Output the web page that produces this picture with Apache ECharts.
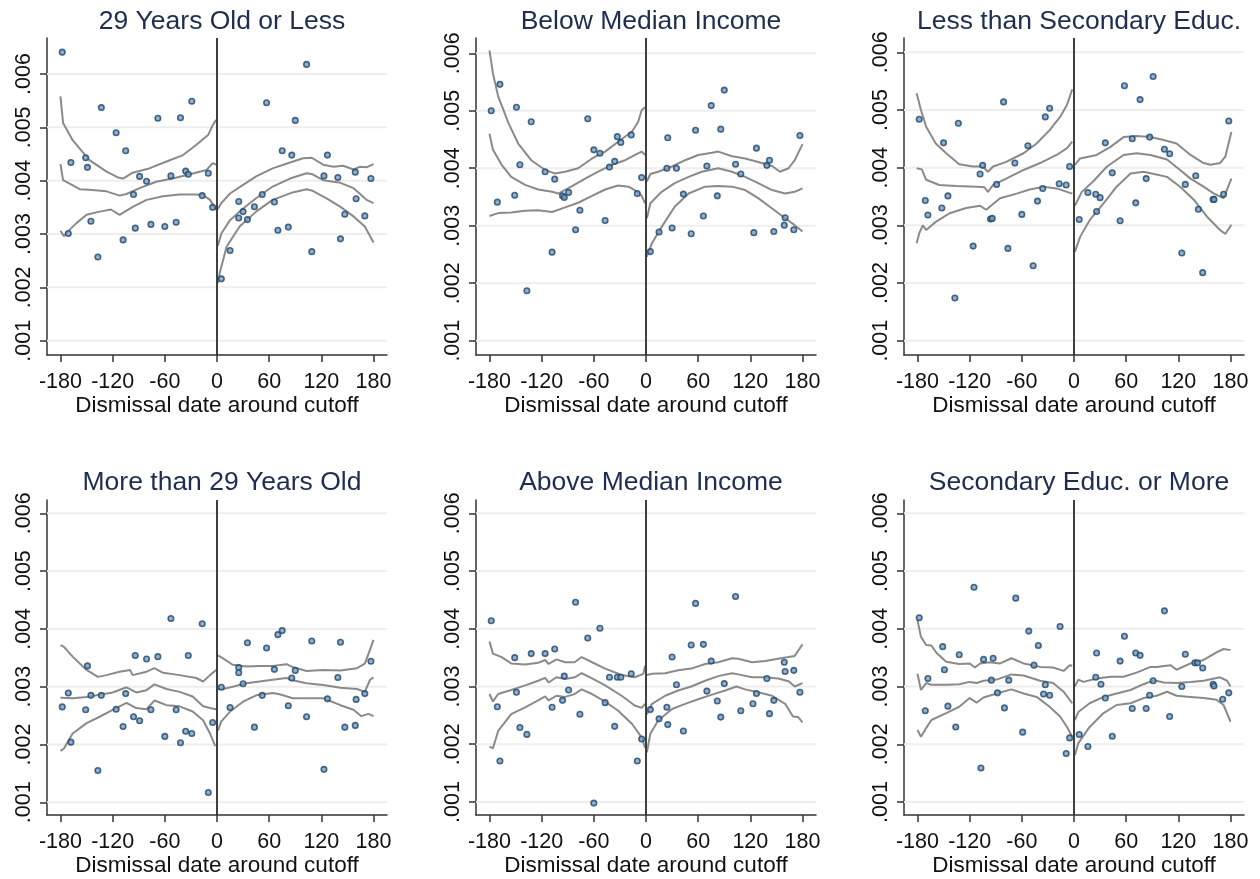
<!DOCTYPE html>
<html>
<head>
<meta charset="utf-8">
<script src="https://cdn.jsdelivr.net/npm/echarts@6/dist/echarts.min.js"></script>
<style>
html,body{margin:0;padding:0;background:#fff;}
#c{width:1260px;height:879px;}
</style>
</head>
<body>
<div id="c"></div>
<script>
// ---------------- DATA ----------------
const panelTitles = ["29 Years Old or Less","Below Median Income","Less than Secondary Educ.",
                     "More than 29 Years Old","Above Median Income","Secondary Educ. or More"];
const xTickValues = [-180,-120,-60,0,60,120,180];
const yTickValues = [0.001,0.002,0.003,0.004,0.005,0.006];
const xAxisTitle = "Dismissal date around cutoff";
const xRange = [-195.5,195.5];
const yRanges = [[0.000732,0.006675],[0.000751,0.006266],[0.000752,0.006248],
                 [0.00078,0.00623],[0.000774,0.006231],[0.000775,0.00623]];

// Panel 1: 29 Years Old or Less
const p1Points = [[-178,.00641],[-171,.00301],[-168,.00434],[-151,.00443],[-149,.00425],[-145,.00324],[-137,.00257],[-133,.00537],[-116,.0049],[-108,.00289],[-105,.00456],[-96,.00374],[-94,.00311],[-89,.00408],[-81,.00399],[-76,.00318],[-68,.00517],[-60,.00314],[-53,.00409],[-47,.00322],[-42,.00518],[-36,.00418],[-33,.00412],[-29,.00549],[-17,.00372],[-10,.00414],[-5,.0035],
  [5,.00216],[15,.00269],[25,.00361],[25,.0033],[30,.00342],[35,.00327],[43,.00351],[52,.00374],[57,.00546],[66,.0036],[70,.00307],[75,.00456],[82,.00313],[86,.00448],[90,.00513],[103,.00618],[109,.00267],[123,.00409],[127,.00448],[139,.00406],[142,.00291],[147,.00337],[159,.00416],[160,.00366],[170,.00334],[177,.00404]];
const p1UpL = [[-180,.00558],[-177,.00508],[-166,.00476],[-147,.00439],[-127,.00417],[-114,.00406],[-108,.00404],[-97,.00415],[-78,.00423],[-58,.00436],[-39,.00448],[-24,.00467],[-10,.00486],[-5,.00504],[-1,.00514]];
const p1MdL = [[-180,.00431],[-177,.00401],[-170,.00395],[-158,.00384],[-147,.00383],[-127,.0038],[-112,.00372],[-104,.00375],[-89,.00386],[-70,.00398],[-51,.00404],[-31,.00412],[-12,.0042],[-5,.00433],[-1,.0043]];
const p1LoL = [[-180,.00306],[-176,.00296],[-172,.00304],[-162,.0032],[-150,.00336],[-135,.00342],[-122,.00346],[-112,.00336],[-97,.00351],[-81,.00364],[-62,.00371],[-43,.00374],[-24,.00374],[-16,.00373],[-8,.00364],[-1,.00345]];
const p1UpR = [[1,.00347],[5,.00358],[15,.00376],[30,.00392],[45,.00408],[64,.00423],[84,.00434],[99,.00442],[109,.00443],[122,.0043],[134,.00426],[145,.00428],[157,.00421],[164,.00426],[172,.00425],[180,.00431]];
const p1MdR = [[1,.00278],[5,.00301],[15,.00326],[30,.00348],[45,.00367],[64,.00389],[84,.00404],[103,.00414],[110,.00412],[122,.00401],[142,.00396],[157,.00386],[164,.00376],[172,.00364],[180,.00358]];
const p1LoR = [[1,.00208],[3,.00226],[11,.00276],[26,.00314],[45,.00342],[64,.00364],[87,.00378],[103,.00384],[110,.00381],[126,.00367],[142,.00351],[157,.00333],[170,.00314],[180,.00284]];

// Panel 2: Below Median Income
const p2Points = [[-178,.005],[-171,.00341],[-168,.00546],[-151,.00353],[-149,.00506],[-145,.00406],[-137,.00187],[-132,.00481],[-116,.00394],[-108,.00254],[-105,.00381],[-96,.00352],[-94,.00349],[-89,.00358],[-81,.00293],[-76,.00327],[-67,.00486],[-60,.00432],[-53,.00426],[-47,.00309],[-42,.00402],[-36,.00412],[-33,.00455],[-29,.00445],[-17,.00458],[-10,.00356],[-5,.00384],
  [5,.00255],[15,.00289],[25,.00453],[24,.004],[30,.00296],[35,.004],[43,.00355],[52,.00286],[57,.00466],[66,.00317],[70,.00404],[75,.00509],[82,.00352],[86,.00468],[90,.00536],[103,.00407],[109,.0039],[124,.00288],[127,.00435],[139,.00405],[142,.00414],[147,.0029],[159,.00301],[160,.00314],[170,.00293],[177,.00457]];
const p2UpL = [[-180,.00605],[-176,.00565],[-170,.00525],[-158,.00478],[-147,.00443],[-132,.00414],[-116,.00397],[-105,.00391],[-93,.00394],[-78,.004],[-62,.00417],[-47,.00429],[-32,.00446],[-16,.00464],[-9,.00481],[-5,.00501],[-1,.00506]];
const p2MdL = [[-180,.0046],[-176,.00432],[-166,.00406],[-155,.00385],[-139,.00371],[-124,.00363],[-108,.00359],[-101,.00356],[-86,.00368],[-70,.00382],[-55,.00394],[-39,.00406],[-24,.00414],[-13,.00423],[-5,.00429],[-1,.00423]];
const p2LoL = [[-180,.00317],[-170,.00322],[-155,.00323],[-139,.00326],[-124,.00327],[-108,.00324],[-93,.00332],[-78,.0034],[-62,.00352],[-47,.00363],[-32,.0037],[-20,.00368],[-13,.00362],[-5,.00352],[-1,.00339]];
const p2UpR = [[1,.00377],[5,.0039],[14,.00394],[30,.00403],[45,.00414],[60,.00423],[76,.00427],[83,.00429],[99,.00421],[114,.00417],[129,.00411],[145,.00404],[154,.00394],[164,.004],[171,.00414],[180,.00442]];
const p2MdR = [[1,.00313],[5,.00339],[18,.00359],[33,.00374],[49,.00385],[64,.00394],[83,.004],[99,.00394],[114,.00385],[129,.00374],[145,.00362],[160,.00356],[171,.00359],[180,.00365]];
const p2LoR = [[1,.00246],[7,.0027],[18,.00298],[33,.00333],[49,.00356],[68,.00368],[83,.00369],[99,.00368],[114,.00362],[129,.00348],[145,.0033],[160,.00313],[171,.00301],[180,.0029]];

// Panel 3: Less than Secondary Educ.
const p3Points = [[-178,.00484],[-171,.00343],[-168,.00318],[-152,.0033],[-150,.00443],[-145,.00351],[-137,.00174],[-133,.00477],[-116,.00264],[-108,.00389],[-105,.00404],[-96,.00311],[-94,.00312],[-89,.00371],[-81,.00514],[-76,.0026],[-68,.00408],[-60,.00319],[-53,.00438],[-47,.0023],[-42,.00342],[-36,.00364],[-33,.00488],[-28,.00503],[-17,.00372],[-9,.0037],[-5,.00402],
  [6,.0031],[16,.00357],[25,.00354],[26,.00324],[30,.00348],[36,.00443],[44,.00391],[53,.00308],[58,.00542],[67,.0045],[71,.00339],[76,.00518],[83,.00381],[87,.00453],[91,.00558],[104,.00432],[110,.00424],[124,.00252],[128,.00371],[140,.00386],[143,.00328],[148,.00218],[160,.00345],[161,.00345],[172,.00354],[178,.00481]];
const p3UpL = [[-181,.00529],[-176,.005],[-170,.00471],[-159,.00442],[-147,.00425],[-132,.00406],[-116,.00402],[-105,.00402],[-99,.00393],[-93,.00402],[-78,.0041],[-58,.00425],[-43,.00442],[-28,.00465],[-16,.00488],[-8,.00509],[-2,.00536]];
const p3MdL = [[-181,.00399],[-175,.00397],[-170,.00379],[-155,.0037],[-135,.00368],[-112,.00367],[-103,.00366],[-99,.00358],[-93,.0037],[-78,.00381],[-58,.00396],[-39,.00408],[-20,.00422],[-8,.00434],[-2,.00445]];
const p3LoL = [[-181,.00269],[-178,.00286],[-174,.003],[-170,.00292],[-159,.00306],[-143,.00321],[-124,.0033],[-108,.00334],[-101,.00327],[-85,.00347],[-66,.00355],[-51,.00362],[-35,.00367],[-20,.00364],[-8,.00358],[-2,.00355]];
const p3UpR = [[1,.00405],[7,.00416],[26,.00422],[42,.00436],[57,.00453],[72,.00455],[88,.00453],[103,.00448],[118,.00442],[134,.00422],[149,.00408],[157,.00405],[168,.00408],[174,.00419],[181,.00462]];
const p3MdR = [[1,.00334],[9,.00358],[22,.00376],[38,.00402],[57,.00422],[72,.00425],[88,.00422],[107,.00414],[122,.00396],[134,.00381],[149,.00367],[161,.00355],[172,.00347],[181,.00381]];
const p3LoR = [[1,.00254],[7,.0028],[18,.00309],[34,.00338],[49,.00367],[65,.0039],[80,.00393],[92,.00389],[107,.00384],[122,.00367],[138,.00344],[153,.00315],[168,.00292],[174,.00285],[181,.00301]];

// Panel 4: More than 29 Years Old
const p4Points = [[-178,.00265],[-171,.00289],[-168,.00204],[-151,.0026],[-149,.00336],[-145,.00285],[-137,.00155],[-133,.00285],[-116,.00261],[-108,.00231],[-105,.00288],[-96,.00248],[-94,.00354],[-89,.00241],[-81,.00348],[-76,.0026],[-68,.00352],[-60,.00214],[-53,.00418],[-47,.0026],[-42,.00203],[-36,.00223],[-33,.00354],[-29,.00219],[-17,.00409],[-10,.00117],[-5,.00238],
  [5,.00299],[15,.00264],[25,.00333],[25,.00324],[30,.00305],[35,.00376],[43,.0023],[52,.00285],[57,.00367],[66,.0033],[70,.0039],[75,.00397],[82,.00267],[86,.00315],[90,.00328],[103,.00248],[109,.00379],[123,.00157],[127,.00279],[139,.00316],[142,.00377],[147,.0023],[159,.00233],[160,.00278],[170,.00288],[177,.00344]];
const p4UpL = [[-180,.00372],[-176,.00369],[-166,.00352],[-150,.00329],[-137,.00317],[-127,.0032],[-112,.00326],[-100,.00329],[-97,.0032],[-81,.00326],[-72,.00332],[-62,.00324],[-43,.0032],[-24,.00315],[-16,.00309],[-8,.0032],[-1,.00329]];
const p4MdL = [[-180,.00281],[-166,.0028],[-150,.00282],[-135,.00286],[-120,.0029],[-104,.00299],[-93,.0029],[-81,.00294],[-72,.00304],[-58,.00296],[-43,.00291],[-28,.00283],[-16,.00266],[-8,.00263],[-1,.00261]];
const p4LoL = [[-180,.00189],[-176,.00193],[-166,.00219],[-150,.00237],[-135,.00248],[-120,.0026],[-104,.00272],[-93,.00263],[-81,.00261],[-72,.00276],[-58,.00268],[-43,.00266],[-28,.00257],[-16,.00242],[-8,.00219],[-2,.00197]];
const p4UpR = [[1,.00354],[7,.00349],[18,.00338],[34,.00335],[49,.00336],[64,.00336],[80,.00339],[87,.00334],[103,.00327],[122,.00329],[142,.00328],[161,.00332],[170,.0034],[176,.00364],[180,.00381]];
const p4MdR = [[1,.00296],[7,.00296],[18,.003],[34,.00306],[49,.00309],[64,.00312],[80,.00315],[87,.00311],[103,.00306],[122,.00303],[142,.00298],[161,.00296],[170,.00291],[176,.00312],[180,.00316]];
const p4LoR = [[1,.00224],[5,.0024],[15,.00257],[30,.00274],[45,.00285],[64,.00289],[72,.00287],[87,.0028],[103,.0028],[122,.0028],[142,.00268],[157,.0026],[166,.00249],[174,.00253],[180,.00249]];

// Panel 5: Above Median Income
const p5Points = [[-178,.00414],[-171,.00265],[-168,.00171],[-151,.0035],[-149,.0029],[-145,.00229],[-137,.00217],[-132,.00357],[-116,.00357],[-108,.00264],[-105,.00365],[-96,.00276],[-94,.00318],[-89,.00294],[-81,.00446],[-76,.00252],[-67,.00384],[-60,.00098],[-53,.00401],[-47,.00272],[-42,.00316],[-36,.00231],[-33,.00316],[-29,.00316],[-17,.00322],[-10,.00171],[-5,.00209],
  [5,.0026],[15,.00244],[24,.00264],[25,.00234],[30,.00351],[35,.00303],[43,.00223],[52,.00372],[57,.00444],[66,.00373],[70,.00292],[75,.00344],[82,.00275],[86,.00247],[90,.00305],[103,.00456],[109,.00258],[123,.0027],[127,.00288],[139,.00314],[142,.00253],[147,.00276],[159,.00342],[160,.00326],[170,.00328],[177,.0029]];
const p5UpL = [[-180,.00378],[-176,.00357],[-166,.00351],[-155,.0034],[-139,.00338],[-124,.00341],[-116,.00346],[-112,.00339],[-103,.00347],[-93,.00342],[-82,.00342],[-74,.00351],[-62,.00342],[-47,.00331],[-28,.0032],[-13,.00316],[-3,.00322],[-1,.00336]];
const p5MdL = [[-180,.00287],[-176,.00274],[-170,.00287],[-155,.00294],[-139,.00302],[-124,.0031],[-116,.00315],[-112,.00307],[-103,.00316],[-93,.00313],[-82,.00316],[-74,.00323],[-62,.00314],[-47,.00302],[-28,.00284],[-13,.00267],[-5,.00263],[-1,.0027]];
const p5LoL = [[-180,.00196],[-176,.00193],[-170,.00223],[-155,.00252],[-139,.00264],[-124,.00276],[-116,.00283],[-112,.00276],[-103,.00284],[-93,.00282],[-82,.00287],[-74,.00295],[-62,.00287],[-47,.00274],[-32,.00258],[-16,.00235],[-5,.00212],[-1,.00194]];
const p5UpR = [[1,.0032],[7,.00322],[22,.00323],[37,.00328],[52,.00331],[68,.00339],[83,.00342],[99,.00349],[106,.00348],[122,.00342],[137,.00344],[152,.00348],[164,.00351],[171,.00353],[175,.00362],[180,.00373]];
const p5MdR = [[1,.00252],[7,.0027],[22,.00284],[37,.00293],[52,.003],[68,.0031],[83,.00318],[99,.00323],[106,.00321],[122,.00316],[137,.00316],[152,.00314],[164,.00309],[171,.003],[180,.00306]];
const p5LoR = [[1,.00186],[5,.00218],[14,.00241],[30,.00261],[45,.0027],[60,.00278],[76,.00286],[91,.00293],[104,.003],[114,.00295],[129,.0029],[145,.00284],[160,.0027],[169,.00248],[175,.00247],[180,.00238]];

// Panel 6: Secondary Educ. or More
const p6Points = [[-178,.00419],[-171,.00258],[-168,.00314],[-151,.00369],[-149,.00329],[-145,.00266],[-136,.0023],[-132,.00355],[-115,.00472],[-107,.00159],[-104,.00347],[-95,.00311],[-93,.00349],[-88,.00289],[-80,.00263],[-75,.00311],[-67,.00453],[-59,.00221],[-52,.00396],[-46,.00337],[-41,.00371],[-35,.00287],[-33,.00303],[-28,.00285],[-16,.00404],[-9,.00184],[-5,.00211],
  [6,.00217],[16,.00196],[25,.00316],[26,.00358],[31,.00304],[36,.0028],[44,.00214],[53,.00344],[58,.00387],[67,.00262],[71,.00358],[76,.00354],[83,.00262],[87,.00285],[91,.0031],[104,.00431],[110,.00248],[124,.003],[128,.00356],[139,.00341],[142,.00341],[148,.00332],[160,.00304],[161,.00301],[171,.00278],[178,.00289]];
const p6UpL = [[-180,.00415],[-176,.00386],[-170,.00372],[-164,.00371],[-158,.00358],[-147,.00343],[-132,.00339],[-120,.0034],[-114,.00333],[-108,.0034],[-97,.00342],[-85,.0034],[-72,.00349],[-58,.0034],[-39,.00334],[-24,.00333],[-12,.00327],[-5,.00337],[-2,.00336]];
const p6MdL = [[-180,.00322],[-176,.00294],[-170,.00306],[-164,.00303],[-147,.00303],[-132,.00304],[-120,.00308],[-112,.00306],[-104,.0031],[-89,.00312],[-72,.00321],[-58,.00319],[-39,.0031],[-24,.00306],[-12,.00291],[-2,.00271]];
const p6LoL = [[-180,.00225],[-176,.00213],[-170,.00228],[-164,.00242],[-147,.00254],[-132,.00265],[-120,.0028],[-112,.00272],[-104,.00281],[-89,.00288],[-72,.00295],[-58,.00288],[-43,.00282],[-28,.00265],[-16,.00248],[-8,.0023],[-2,.00213]];
const p6UpR = [[1,.003],[5,.00312],[11,.00308],[26,.00314],[42,.00317],[57,.00317],[72,.00324],[88,.00334],[95,.00334],[111,.00337],[118,.00329],[134,.0034],[149,.00346],[165,.0036],[172,.00365],[180,.00363]];
const p6MdR = [[1,.00242],[5,.00256],[18,.00271],[34,.00282],[49,.00288],[65,.00294],[80,.00304],[92,.00311],[103,.00307],[118,.00306],[134,.00308],[149,.0031],[168,.00316],[176,.0031],[180,.003]];
const p6LoR = [[1,.00181],[5,.00202],[18,.0023],[34,.00254],[49,.00268],[65,.00271],[80,.0028],[95,.00284],[107,.00291],[118,.00284],[134,.00282],[149,.0028],[164,.00277],[172,.00268],[180,.00239]];

const panelPoints = [p1Points,p2Points,p3Points,p4Points,p5Points,p6Points];
const panelLines = [
  [p1UpL,p1MdL,p1LoL,p1UpR,p1MdR,p1LoR],
  [p2UpL,p2MdL,p2LoL,p2UpR,p2MdR,p2LoR],
  [p3UpL,p3MdL,p3LoL,p3UpR,p3MdR,p3LoR],
  [p4UpL,p4MdL,p4LoL,p4UpR,p4MdR,p4LoR],
  [p5UpL,p5MdL,p5LoL,p5UpR,p5MdR,p5LoR],
  [p6UpL,p6MdL,p6LoL,p6UpR,p6MdR,p6LoR]
];

// ---------------- LAYOUT / STYLE ----------------
const FONT = "'Liberation Sans', Arial, sans-serif";
const colLeft = [47, 476, 904];
const rowTop = [38, 500];
const rowHeight = [317, 315];
const plotWidth = 340;
const titleTop = [3, 464];

const grids = [], xAxes = [], yAxes = [], series = [], titles = [];
for (let i = 0; i < 6; i++) {
  const r = Math.floor(i / 3), c = i % 3;
  grids.push({left: colLeft[c], top: rowTop[r], width: plotWidth, height: rowHeight[r], containLabel: false});
  titles.push({
    text: panelTitles[i], left: colLeft[c] + plotWidth / 2, top: titleTop[r], textAlign: 'center',
    textStyle: {fontFamily: FONT, fontSize: 26.5, fontWeight: 'normal', color: '#1e2d50'}
  });
  xAxes.push({
    gridIndex: i, type: 'value', min: xRange[0], max: xRange[1],
    name: xAxisTitle, nameLocation: 'middle', nameGap: 35,
    nameTextStyle: {fontFamily: FONT, fontSize: 22.5, color: '#111'},
    axisLine: {show: true, onZero: false, lineStyle: {color: '#333', width: 1.5}},
    axisTick: {show: true, length: 7, customValues: xTickValues, lineStyle: {color: '#333', width: 1.5}},
    axisLabel: {show: true, customValues: xTickValues, margin: 16, fontFamily: FONT, fontSize: 21.5, color: '#111'},
    splitLine: {show: false}
  });
  yAxes.push({
    gridIndex: i, type: 'value', min: yRanges[i][0], max: yRanges[i][1],
    axisLine: {show: true, onZero: false, lineStyle: {color: '#333', width: 1.5}},
    axisTick: {show: true, length: 7, customValues: yTickValues, lineStyle: {color: '#333', width: 1.5}},
    axisLabel: {show: true, customValues: yTickValues, rotate: 90, margin: 12, fontFamily: FONT, fontSize: 21.5, color: '#111',
      formatter: v => '.' + String(Math.round(v * 1000)).padStart(3, '0')},
    splitLine: {show: false}
  });
  // horizontal gridlines at each y tick, spanning the x range
  yTickValues.forEach(v => {
    series.push({
      type: 'line', xAxisIndex: i, yAxisIndex: i, z: 1, silent: true, showSymbol: false, animation: false,
      data: [[xRange[0], v], [xRange[1], v]],
      lineStyle: {color: '#eeeeee', width: 2}
    });
  });
  // cutoff line
  series.push({
    type: 'line', xAxisIndex: i, yAxisIndex: i, data: [], z: 2, silent: true,
    markLine: {
      silent: true, symbol: ['none', 'none'], animation: false, label: {show: false},
      lineStyle: {color: '#2b2b2b', width: 1.8, type: 'solid'},
      data: [{xAxis: 0}]
    }
  });
  panelLines[i].forEach(ln => {
    series.push({
      type: 'line', xAxisIndex: i, yAxisIndex: i, data: ln, showSymbol: false, z: 3, silent: true,
      lineStyle: {color: '#8a8a8a', width: 2}, animation: false
    });
  });
  series.push({
    type: 'scatter', xAxisIndex: i, yAxisIndex: i, data: panelPoints[i], z: 4, silent: true,
    symbol: 'circle', symbolSize: 5.5,
    itemStyle: {color: '#7f9cbb', borderColor: '#1a476f', borderWidth: 1.6}, animation: false
  });
}

const chart = echarts.init(document.getElementById('c'), null, {renderer: 'canvas'});
chart.setOption({
  backgroundColor: '#ffffff',
  animation: false,
  title: titles,
  grid: grids,
  xAxis: xAxes,
  yAxis: yAxes,
  series: series
});
</script>
</body>
</html>
